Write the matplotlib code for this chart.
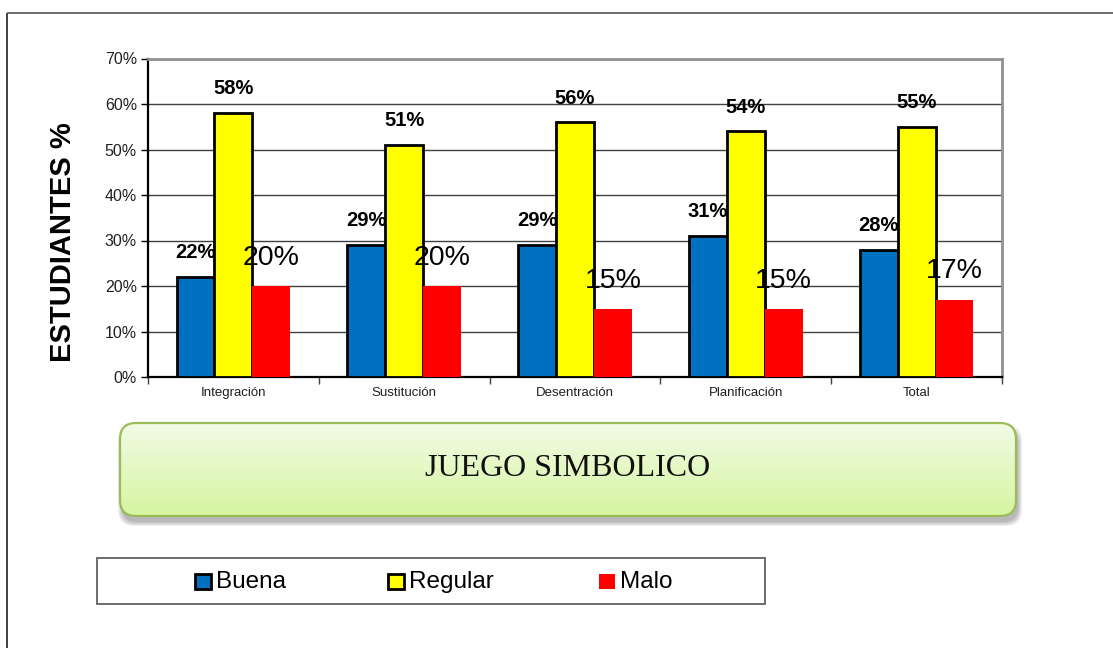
import matplotlib
matplotlib.use('Agg')
import numpy as np
import matplotlib.pyplot as plt
from matplotlib.patches import FancyBboxPatch, Rectangle
from matplotlib.ticker import FuncFormatter, FixedLocator
from matplotlib.colors import LinearSegmentedColormap

plt.rcParams.update({'font.family': 'Liberation Sans'})

categorias = ['Integración', 'Sustitución', 'Desentración', 'Planificación', 'Total']
series = ['Buena', 'Regular', 'Malo']
buena = [22, 29, 29, 31, 28]
regular = [58, 51, 56, 54, 55]
malo = [20, 20, 15, 15, 17]
yticks = [0, 10, 20, 30, 40, 50, 60, 70]
titulo = 'JUEGO SIMBOLICO'

AZUL = '#0070C0'
AMAR = '#FFFF00'
ROJO = '#FF0000'

W, H = 1113, 648
fig = plt.figure(figsize=(W / 100, H / 100), dpi=100)


def fx(px):
    return px / W


def fy(py):
    return 1 - py / H


# fondo / capa para marco, caja verde y leyenda (coordenadas en pixeles)
bg = fig.add_axes([0, 0, 1, 1], zorder=0)
bg.set_xlim(0, W)
bg.set_ylim(H, 0)
bg.axis('off')
bg.plot([7, 7], [13, H], color='#303030', lw=1.3, solid_capstyle='butt')
bg.plot([7, W], [13, 13], color='#606060', lw=1.3, solid_capstyle='butt')

ax = fig.add_axes([fx(148), fy(377), fx(1002) - fx(148), fy(58.5) - fy(377)], zorder=2)
x = np.arange(len(categorias))
w = 0.222
b1 = ax.bar(x - w, buena, w, color=AZUL, edgecolor='black', linewidth=2, zorder=3)
b2 = ax.bar(x, regular, w, color=AMAR, edgecolor='black', linewidth=2, zorder=3)
b3 = ax.bar(x + w, malo, w, color=ROJO, edgecolor='none', zorder=3)

for xi, v in zip(x - w, buena):
    ax.text(xi, v + 5.3, f'{v}%', ha='center', va='center', fontsize=14.5, fontweight='bold', zorder=5)
for xi, v in zip(x, regular):
    ax.text(xi, v + 5.3, f'{v}%', ha='center', va='center', fontsize=14.5, fontweight='bold', zorder=5)
for xi, v in zip(x + w, malo):
    ax.text(xi, v + 6.2, f'{v}%', ha='center', va='center', fontsize=20.5, zorder=5)

ax.set_xlim(-0.5, len(categorias) - 0.5)
ax.set_ylim(0, 70)
ax.yaxis.set_major_locator(FixedLocator(yticks))
ax.yaxis.set_major_formatter(FuncFormatter(lambda v, p: f'{v:.0f}%'))
ax.tick_params(axis='y', labelsize=11.5, length=5, width=1, color='black', pad=3, labelcolor='#202020')
ax.set_xticks(x)
ax.set_xticklabels(categorias)
ax.set_xticks(np.arange(-0.5, len(categorias)), minor=True)
ax.tick_params(axis='x', which='major', length=0, labelsize=9.5, pad=7, labelcolor='#202020')
ax.tick_params(axis='x', which='minor', length=5, width=1, color='#404040')
ax.yaxis.grid(True, color='#404040', lw=1)
ax.set_axisbelow(True)
ax.spines['left'].set_color('black')
ax.spines['left'].set_linewidth(1.6)
ax.spines['bottom'].set_color('black')
ax.spines['bottom'].set_linewidth(1.6)
for s in ('top', 'right'):
    ax.spines[s].set_color('#909090')
    ax.spines[s].set_linewidth(2)

fig.text(fx(63), fy(242), 'ESTUDIANTES %', rotation=90, ha='center', va='center', fontsize=21, fontweight='bold')

# caja verde con degradado y sombra
bx0, by0, bx1, by1 = 120, 423, 1016, 516
for k in range(6):
    bg.add_patch(FancyBboxPatch((bx0 + 2, by0 + 6), bx1 - bx0, by1 - by0,
                                boxstyle=f'round,pad={k * 0.8},rounding_size=16',
                                facecolor='black', edgecolor='none', alpha=0.05, zorder=1))
caja = FancyBboxPatch((bx0, by0), bx1 - bx0, by1 - by0, boxstyle='round,pad=0,rounding_size=16',
                      facecolor='none', edgecolor='#9BBB59', lw=1.6, zorder=4)
bg.add_patch(caja)
grad = LinearSegmentedColormap.from_list('g', ['#F2FBE6', '#D6F5A0'])
img = bg.imshow(np.linspace(0, 1, 100).reshape(-1, 1), cmap=grad, aspect='auto',
                extent=(bx0, bx1, by1, by0), zorder=3)
img.set_clip_path(caja)
bg.set_xlim(0, W)
bg.set_ylim(H, 0)
bg.text((bx0 + bx1) / 2, 469, titulo, ha='center', va='center', fontsize=23,
        family='Liberation Serif', color='#111111', zorder=5)

# leyenda
bg.add_patch(Rectangle((97, 558), 668, 46, facecolor='white', edgecolor='#606060', lw=1.3, zorder=4))
handles = [b1.patches[0], b2.patches[0], b3.patches[0]]
for xs, h, nombre in zip([195, 388, 599], handles, series):
    ec = h.get_edgecolor()
    lw = 2 if h.get_linewidth() > 0 and ec[3] > 0 else 0
    bg.add_patch(Rectangle((xs, 574), 16, 15, facecolor=h.get_facecolor(),
                           edgecolor=ec if lw else 'none', lw=lw, zorder=5))
    bg.text(xs + 21, 582, nombre, ha='left', va='center', fontsize=17.5, zorder=5)

fig.savefig('out.png', dpi=100)
